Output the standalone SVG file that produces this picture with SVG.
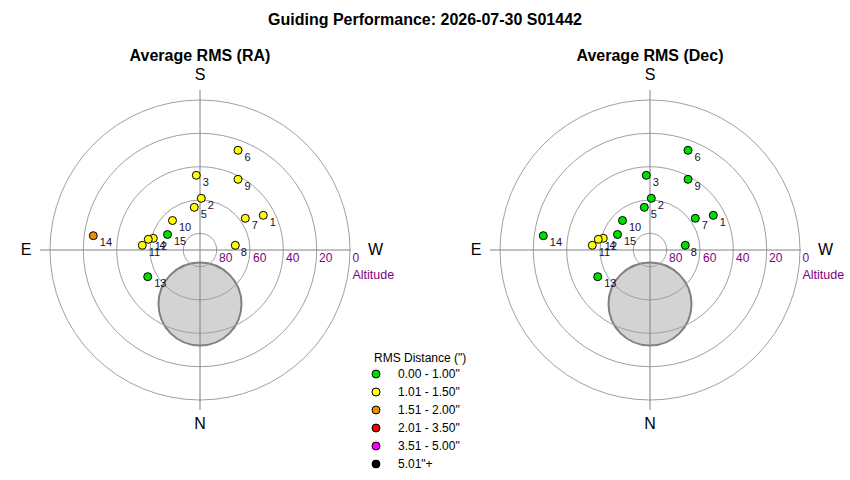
<svg xmlns="http://www.w3.org/2000/svg" width="850" height="480" viewBox="0 0 850 480">
<style>
text{font-family:"Liberation Sans",Arial,sans-serif}
.title{font-size:16px;font-weight:bold;fill:#000;text-anchor:middle}
.dir{font-size:16px;fill:#000;text-anchor:middle}
.ring{fill:none;stroke:#a0a0a0;stroke-width:1}
.axis{stroke:#808080;stroke-width:1}
.alt{font-size:12px;fill:#800080}
.altl{font-size:12.5px;fill:#800080}
.disc{fill:#d3d3d3;stroke:#808080;stroke-width:2}
.pt{stroke:#000;stroke-width:1}
.lbl{font-size:11px;fill:#1e0a30}
.g{fill:#00e000}.y{fill:#ffff00}.o{fill:#e89000}.r{fill:#ff0000}.m{fill:#ff00ff}.k{fill:#000}
.leg{font-size:12px;fill:#000}
</style>
<defs>
<g id="base">
<circle class="disc" cx="0" cy="54" r="41.5"/>
<circle class="ring" cx="0" cy="0" r="16.7"/>
<circle class="ring" cx="0" cy="0" r="50"/>
<circle class="ring" cx="0" cy="0" r="83.3"/>
<circle class="ring" cx="0" cy="0" r="116.7"/>
<circle class="ring" cx="0" cy="0" r="150"/>
<line class="axis" x1="0" y1="-160" x2="0" y2="160"/>
<line class="axis" x1="-160" y1="0" x2="151" y2="0"/>
<text class="dir" x="0" y="-170">S</text>
<text class="dir" x="0" y="179">N</text>
<text class="dir" x="-174" y="5">E</text>
<text class="dir" x="175.5" y="5">W</text>
<text class="alt" x="19" y="12">80</text>
<text class="alt" x="53" y="12">60</text>
<text class="alt" x="86" y="12">40</text>
<text class="alt" x="119" y="12">20</text>
<text class="alt" x="152.5" y="12">0</text>
<text class="altl" x="152.5" y="28.5">Altitude</text>
</g>
</defs>
<text class="title" x="425" y="25">Guiding Performance: 2026-07-30 S01442</text>
<g id="plot-ra">
<text class="title" x="200" y="61">Average RMS (RA)</text>
<use href="#base" x="200" y="250"/>
<g id="ra-points">
<g id="ra-p1"><circle class="pt y" cx="263.3" cy="215.3" r="4"/><text class="lbl" x="269.8" y="225.8">1</text></g>
<g id="ra-p2"><circle class="pt y" cx="201.3" cy="198.3" r="4"/><text class="lbl" x="207.8" y="208.8">2</text></g>
<g id="ra-p3"><circle class="pt y" cx="196.3" cy="175.3" r="4"/><text class="lbl" x="202.8" y="185.8">3</text></g>
<g id="ra-p4"><circle class="pt y" cx="153.3" cy="238.3" r="4"/><text class="lbl" x="159.5" y="248.8">4</text></g>
<g id="ra-p5"><circle class="pt y" cx="194.3" cy="207.3" r="4"/><text class="lbl" x="200.8" y="217.8">5</text></g>
<g id="ra-p6"><circle class="pt y" cx="238" cy="150.3" r="4"/><text class="lbl" x="244.5" y="160.8">6</text></g>
<g id="ra-p7"><circle class="pt y" cx="245.3" cy="218.3" r="4"/><text class="lbl" x="251.8" y="228.8">7</text></g>
<g id="ra-p8"><circle class="pt y" cx="235.3" cy="245.3" r="4"/><text class="lbl" x="240.8" y="256">8</text></g>
<g id="ra-p9"><circle class="pt y" cx="238" cy="179.3" r="4"/><text class="lbl" x="244.5" y="189.8">9</text></g>
<g id="ra-p10"><circle class="pt y" cx="172.5" cy="220.5" r="4"/><text class="lbl" x="179" y="231">10</text></g>
<g id="ra-p11"><circle class="pt y" cx="142.3" cy="245.3" r="4"/><text class="lbl" x="148.8" y="255.8">11</text></g>
<g id="ra-p12"><circle class="pt y" cx="148.3" cy="239.3" r="4"/><text class="lbl" x="154.8" y="249.8">12</text></g>
<g id="ra-p13"><circle class="pt g" cx="147.7" cy="276.7" r="4"/><text class="lbl" x="154.2" y="287.2">13</text></g>
<g id="ra-p14"><circle class="pt o" cx="93.3" cy="235.7" r="4"/><text class="lbl" x="99.8" y="246.2">14</text></g>
<g id="ra-p15"><circle class="pt g" cx="167.5" cy="234.5" r="4"/><text class="lbl" x="174" y="245">15</text></g>
</g>
</g>
<g id="plot-dec">
<text class="title" x="650" y="61">Average RMS (Dec)</text>
<use href="#base" x="650" y="250"/>
<g id="dec-points">
<g id="dec-p1"><circle class="pt g" cx="713.3" cy="215.3" r="4"/><text class="lbl" x="719.8" y="225.8">1</text></g>
<g id="dec-p2"><circle class="pt g" cx="651.3" cy="198.3" r="4"/><text class="lbl" x="657.8" y="208.8">2</text></g>
<g id="dec-p3"><circle class="pt g" cx="646.3" cy="175.3" r="4"/><text class="lbl" x="652.8" y="185.8">3</text></g>
<g id="dec-p4"><circle class="pt y" cx="603.3" cy="238.3" r="4"/><text class="lbl" x="609.5" y="248.8">4</text></g>
<g id="dec-p5"><circle class="pt g" cx="644.3" cy="207.3" r="4"/><text class="lbl" x="650.8" y="217.8">5</text></g>
<g id="dec-p6"><circle class="pt g" cx="688" cy="150.3" r="4"/><text class="lbl" x="694.5" y="160.8">6</text></g>
<g id="dec-p7"><circle class="pt g" cx="695.3" cy="218.3" r="4"/><text class="lbl" x="701.8" y="228.8">7</text></g>
<g id="dec-p8"><circle class="pt g" cx="685.3" cy="245.3" r="4"/><text class="lbl" x="690.8" y="256">8</text></g>
<g id="dec-p9"><circle class="pt g" cx="688" cy="179.3" r="4"/><text class="lbl" x="694.5" y="189.8">9</text></g>
<g id="dec-p10"><circle class="pt g" cx="622.5" cy="220.5" r="4"/><text class="lbl" x="629" y="231">10</text></g>
<g id="dec-p11"><circle class="pt y" cx="592.3" cy="245.3" r="4"/><text class="lbl" x="598.8" y="255.8">11</text></g>
<g id="dec-p12"><circle class="pt y" cx="598.3" cy="239.3" r="4"/><text class="lbl" x="604.8" y="249.8">12</text></g>
<g id="dec-p13"><circle class="pt g" cx="597.7" cy="276.7" r="4"/><text class="lbl" x="604.2" y="287.2">13</text></g>
<g id="dec-p14"><circle class="pt g" cx="543.3" cy="235.7" r="4"/><text class="lbl" x="549.8" y="246.2">14</text></g>
<g id="dec-p15"><circle class="pt g" cx="617.5" cy="234.5" r="4"/><text class="lbl" x="624" y="245">15</text></g>
</g>
</g>
<g id="connectors"></g>
<g id="legend">
<text class="leg" x="374" y="362">RMS Distance (")</text>
<circle class="pt g" cx="376" cy="374" r="4"/><text class="leg" x="398" y="378">0.00 - 1.00"</text>
<circle class="pt y" cx="376" cy="392" r="4"/><text class="leg" x="398" y="396">1.01 - 1.50"</text>
<circle class="pt o" cx="376" cy="410" r="4"/><text class="leg" x="398" y="414">1.51 - 2.00"</text>
<circle class="pt r" cx="376" cy="428" r="4"/><text class="leg" x="398" y="432">2.01 - 3.50"</text>
<circle class="pt m" cx="376" cy="446" r="4"/><text class="leg" x="398" y="450">3.51 - 5.00"</text>
<circle class="pt k" cx="376" cy="464" r="4"/><text class="leg" x="398" y="468">5.01"+</text>
</g>
</svg>
